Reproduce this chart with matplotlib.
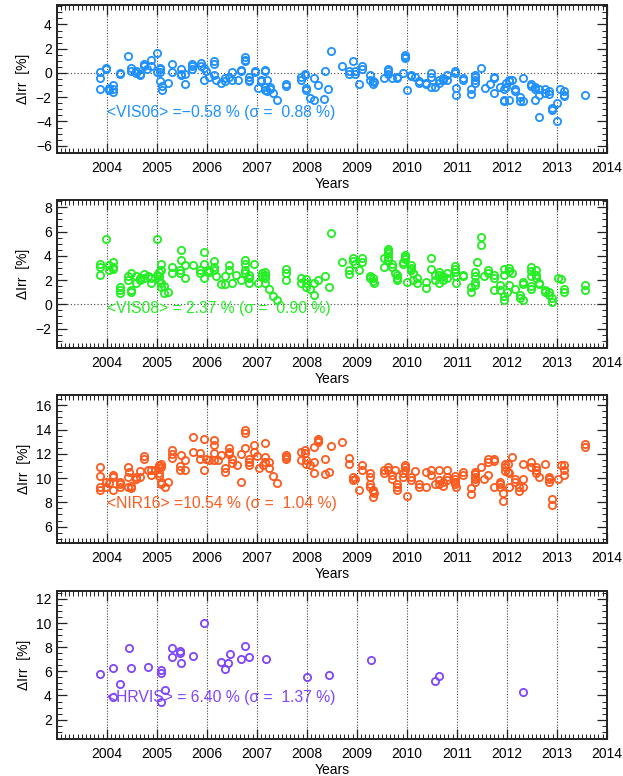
import matplotlib
matplotlib.use("Agg")
import matplotlib.pyplot as plt
import matplotlib.ticker as ticker
import numpy as np

plt.rcParams['font.family'] = ['Liberation Sans', 'DejaVu Sans']
plt.rcParams['font.size'] = 10

# ---- VIS06 ----
vis06_epochs = [2003.86, 2003.98, 2004.04, 2004.12, 2004.26, 2004.42, 2004.49, 2004.59, 2004.67, 2004.74,
                2004.81, 2004.89, 2005.01, 2005.07, 2005.10, 2005.23, 2005.31, 2005.48, 2005.57, 2005.70,
                2005.88, 2005.94, 2005.98, 2006.04, 2006.14, 2006.18, 2006.28, 2006.36, 2006.44, 2006.51,
                2006.63, 2006.69, 2006.77, 2006.85, 2006.97, 2007.02, 2007.09, 2007.17, 2007.20, 2007.27,
                2007.32, 2007.40, 2007.58, 2007.88, 2007.96, 2007.98, 2008.06, 2008.14, 2008.15, 2008.22,
                2008.35, 2008.37, 2008.43, 2008.49, 2008.71, 2008.84, 2008.93, 2008.97, 2009.05, 2009.10,
                2009.26, 2009.32, 2009.34, 2009.54, 2009.62, 2009.70, 2009.81, 2009.93, 2009.97, 2010.01,
                2010.09, 2010.17, 2010.25, 2010.39, 2010.49, 2010.57, 2010.65, 2010.72, 2010.80, 2010.96,
                2010.99, 2011.12, 2011.28, 2011.36, 2011.48, 2011.56, 2011.67, 2011.75, 2011.86, 2011.94,
                2011.99, 2012.05, 2012.11, 2012.17, 2012.27, 2012.33, 2012.49, 2012.57, 2012.65, 2012.76,
                2012.84, 2012.90, 2013.00, 2013.06, 2013.14, 2013.57]
vis06_values = [[0.05, -0.4, -1.3], [0.45, 0.3], [-1.2, -1.4], [-1.0, -1.3, -1.6], [0.0, -0.1], [1.4],
                [0.4, 0.2], [0.2, 0.0], [-0.1, -0.2], [0.7, 0.6], [0.3], [1.05, 0.6], [1.65, 0.1],
                [0.4, 0.3, 0.1, -0.7], [-1.05, -1.4], [-0.85], [0.75, 0.1], [0.3, -0.1, -0.2], [-0.05, -0.95],
                [0.75, 0.55, 0.35], [0.8, 0.6], [0.4, -0.55], [0.15], [-0.3], [0.95, 0.7, -0.2], [-0.55],
                [-0.8], [-0.4, -0.7], [-0.3], [0.05, -0.55], [-0.55], [0.25, 0.2], [1.3, 1.1, 0.95],
                [-0.35, -0.55, -0.7], [0.05, 0.15], [-1.25], [-0.6, -0.7], [0.25, 0.15, -1.15, -1.4],
                [-0.55, -1.5], [-1.15, -1.35], [-1.65], [-2.2], [-0.95, -1.1], [-0.3, -0.55], [-0.05, -0.2],
                [-1.25, -1.4], [-2.05], [-0.45], [-2.2], [-1.0], [-2.15], [0.15], [-1.3], [1.85], [0.6],
                [0.2, -0.05], [1.0], [0.15, -0.05], [-0.95], [0.55, 0.3], [-0.2, -0.55], [-0.7, -0.9],
                [-0.75], [-0.4], [0.35, 0.15, -0.05], [-0.4], [-0.35, -0.4], [0.0], [1.5, 1.35, 1.25],
                [-1.4], [-0.15, -0.25], [-0.3], [-0.7, -0.8], [-0.8, -0.95], [0.0, -0.35, -1.15], [-1.15],
                [-0.6, -0.8], [-0.4, -0.55], [-0.2, -0.6], [0.15, 0.0], [-1.25, -1.8], [-0.4, -0.55],
                [-1.35, -1.7], [-0.15, -0.35, -0.55, -0.8], [0.4], [-1.25], [-0.95], [-0.3, -0.4, -1.65],
                [-1.15], [-2.2, -2.35, -1.35], [-0.8, -1.15], [-0.55, -0.7, -2.2], [-0.6], [-1.3, -1.5],
                [-2.0, -2.35], [-0.4, -2.35], [-0.9, -1.05], [-1.15, -1.35, -2.2], [-1.35, -1.8, -3.6],
                [-1.35, -1.65], [-1.5, -1.7], [-2.9, -3.05], [-2.5, -3.95], [-1.3], [-1.45, -1.8, -1.9],
                [-1.8]]

# ---- VIS08 ----
vis08_epochs = [2003.86, 2003.98, 2004.04, 2004.12, 2004.26, 2004.42, 2004.49, 2004.59, 2004.67, 2004.74,
                2004.82, 2004.89, 2005.01, 2005.05, 2005.09, 2005.15, 2005.23, 2005.31, 2005.46, 2005.49,
                2005.57, 2005.72, 2005.86, 2005.95, 2006.04, 2006.14, 2006.18, 2006.28, 2006.36, 2006.45,
                2006.51, 2006.59, 2006.69, 2006.77, 2006.85, 2006.95, 2007.02, 2007.11, 2007.17, 2007.24,
                2007.32, 2007.40, 2007.58, 2007.88, 2007.98, 2008.07, 2008.14, 2008.15, 2008.22, 2008.37,
                2008.45, 2008.49, 2008.71, 2008.84, 2008.93, 2008.97, 2009.05, 2009.10, 2009.26, 2009.32,
                2009.34, 2009.54, 2009.62, 2009.70, 2009.76, 2009.81, 2009.93, 2009.97, 2010.01, 2010.08,
                2010.13, 2010.21, 2010.39, 2010.49, 2010.57, 2010.65, 2010.72, 2010.80, 2010.96, 2010.99,
                2011.12, 2011.28, 2011.36, 2011.40, 2011.48, 2011.54, 2011.62, 2011.75, 2011.86, 2011.94,
                2011.95, 2012.01, 2012.05, 2012.11, 2012.17, 2012.27, 2012.33, 2012.49, 2012.58, 2012.65,
                2012.76, 2012.84, 2012.90, 2013.02, 2013.08, 2013.14, 2013.57]
vis08_values = [[3.35, 3.1, 2.4], [5.35], [3.25, 2.8], [3.5, 3.1, 2.9], [1.45, 1.2, 0.9], [2.3, 2.0],
                [2.6, 1.2, 1.05], [2.3, 1.8], [2.2, 2.0], [2.5, 2.15], [2.3], [2.2, 1.8], [5.35, 2.4],
                [2.7, 2.3, 2.0], [3.3, 2.8, 1.8, 1.45], [1.55, 0.9], [1.05], [3.1, 2.6], [2.8, 2.55],
                [4.45, 3.65], [3.25, 2.2], [3.25], [2.8, 2.6], [4.3, 3.35, 2.15], [2.8, 2.7],
                [3.55, 3.1, 2.8], [2.3], [1.65], [2.35, 1.65], [3.25, 2.8], [1.8], [2.4], [2.0],
                [3.65, 3.35, 2.8, 2.6], [2.4, 2.15, 1.8], [3.3], [1.8], [2.55, 2.3], [2.7, 2.4, 2.15, 1.75],
                [1.3], [0.65], [0.35], [2.9, 2.55, 2.0], [2.2, 1.75], [2.1, 1.75, 1.45], [1.3], [1.8], [0.8],
                [2.0], [2.35], [1.4], [5.9], [3.5], [2.8, 2.5], [3.8, 3.55], [3.35], [2.8], [3.8, 3.5],
                [2.35, 2.15], [2.2, 1.9], [1.8], [3.8, 3.1], [4.6, 4.4, 4.2, 3.9, 3.65], [3.35, 3.1], [2.6],
                [2.4, 2.2, 2.0], [3.5, 3.3], [4.1, 3.9, 3.7], [1.85], [3.25, 3.0, 2.8], [2.55, 2.0],
                [2.15, 1.8], [1.85, 1.35], [3.8, 2.9], [2.4, 2.0], [2.7, 2.4, 1.8], [2.3, 2.0], [2.6, 2.2],
                [3.2, 2.95, 2.7], [2.3, 1.75], [2.4, 2.3], [1.45, 1.05], [2.7, 2.3, 1.85, 1.6], [3.5],
                [5.55, 4.9], [2.3], [2.8, 2.55], [2.4, 2.2, 1.2], [1.6, 1.2], [0.65, 0.35], [2.4, 2.9],
                [1.05], [3.0, 2.75, 1.6], [2.55], [1.25], [0.75, 0.55], [1.85, 1.65, 0.4],
                [3.1, 2.75, 2.3, 1.55, 1.3], [2.8, 2.4, 2.15], [1.8, 1.65], [1.2, 1.0], [1.05, 0.8],
                [0.5, 0.2], [2.2], [2.1], [1.3, 1.05], [1.6, 1.2]]

# ---- NIR16 ----
nir16_epochs = [2003.86, 2003.98, 2004.04, 2004.12, 2004.26, 2004.42, 2004.45, 2004.49, 2004.59, 2004.67,
                2004.75, 2004.82, 2004.89, 2004.97, 2005.05, 2005.09, 2005.17, 2005.23, 2005.31, 2005.46,
                2005.49, 2005.57, 2005.72, 2005.86, 2005.94, 2005.98, 2006.04, 2006.14, 2006.22, 2006.28,
                2006.36, 2006.45, 2006.51, 2006.61, 2006.69, 2006.77, 2006.85, 2006.95, 2007.00, 2007.05,
                2007.13, 2007.17, 2007.24, 2007.32, 2007.40, 2007.58, 2007.88, 2007.96, 2007.98, 2008.07,
                2008.15, 2008.22, 2008.37, 2008.45, 2008.49, 2008.71, 2008.84, 2008.93, 2008.97, 2009.05,
                2009.10, 2009.26, 2009.32, 2009.34, 2009.54, 2009.62, 2009.70, 2009.76, 2009.81, 2009.93,
                2009.97, 2010.01, 2010.09, 2010.17, 2010.25, 2010.39, 2010.49, 2010.57, 2010.65, 2010.72,
                2010.80, 2010.96, 2010.99, 2011.12, 2011.28, 2011.36, 2011.48, 2011.54, 2011.62, 2011.75,
                2011.86, 2011.92, 2011.97, 2012.03, 2012.05, 2012.11, 2012.17, 2012.25, 2012.33, 2012.49,
                2012.58, 2012.65, 2012.76, 2012.84, 2012.90, 2013.02, 2013.08, 2013.14, 2013.57]
nir16_values = [[10.9, 10.15, 9.3, 9.05], [9.7, 9.25], [9.6], [10.25, 10.05, 9.0], [9.7, 9.5, 9.25],
                [10.9, 10.05, 9.3], [10.5], [9.35, 9.15], [10.1, 9.95], [10.6, 10.05], [11.8, 11.55],
                [10.65], [10.65, 10.25], [10.65], [11.05, 10.8, 10.45, 10.15], [11.15, 10.9, 9.7, 9.55],
                [9.3], [9.7], [12.3, 12.0, 11.65], [11.0, 10.7], [11.9], [11.5, 10.7], [13.4, 12.15],
                [12.05, 11.6], [13.25, 10.7], [11.6], [11.5], [13.1, 12.7, 12.05, 11.5], [11.5], [11.9],
                [10.8, 10.5], [12.45, 12.15, 12.0], [11.55, 11.25], [11.05], [12.0, 9.7],
                [14.0, 13.7, 12.45], [11.6, 11.35, 11.05], [12.7, 12.15], [11.8], [10.8], [11.05],
                [12.9, 11.75, 11.35], [11.35, 10.8], [10.15], [9.6], [11.9, 11.75, 11.6], [12.15, 11.45],
                [12.3, 12.05], [11.5, 11.2], [11.05], [12.6, 11.35, 10.45], [13.25, 13.1, 12.95],
                [11.55, 10.35], [10.5], [12.65], [13.0], [11.65, 11.2], [10.05, 9.8], [9.9], [9.05],
                [11.05, 10.65], [10.45, 10.05, 9.5, 9.3], [9.05, 8.9, 8.4], [8.75], [10.65, 10.4],
                [10.9, 10.7], [10.25, 9.95], [10.65], [9.55, 9.3, 9.05], [10.45, 10.05], [11.05, 10.9, 10.7],
                [8.5], [10.05, 9.85], [10.6], [9.55, 9.3], [10.5, 9.3], [10.7, 10.25], [9.5],
                [10.65, 9.8, 9.55], [9.7, 9.35], [10.65, 10.05, 9.85], [10.15, 9.95, 9.7, 9.5], [9.25],
                [10.5, 10.25], [9.15, 8.7], [10.5, 10.3, 10.1, 9.9, 9.7], [10.9], [9.95], [11.55, 11.35, 10.25],
                [11.6, 11.4, 9.3], [9.7, 9.5, 9.3], [8.75, 8.15], [11.2, 10.9, 10.6], [11.15, 10.5],
                [10.4, 9.25], [11.75], [9.9, 9.7], [9.3, 8.95], [11.15, 9.95, 9.25], [11.35, 10.9],
                [10.95, 10.65, 10.45], [10.05], [11.15], [10.05, 9.9, 9.7], [8.25, 7.8], [9.9], [11.05],
                [11.05, 10.7, 10.25], [12.8, 12.6]]

# ---- HRVIS ----
hrvis_epochs = [2003.86, 2004.12, 2004.12, 2004.26, 2004.45, 2004.49, 2004.82, 2005.08, 2005.09, 2005.16,
                2005.31, 2005.46, 2005.49, 2005.72, 2005.94, 2006.28, 2006.36, 2006.43, 2006.47, 2006.69,
                2006.77, 2006.85, 2007.18, 2008.00, 2008.45, 2009.28, 2010.57, 2010.65, 2012.33]
hrvis_values = [[5.75], [6.3], [3.85], [4.95], [7.95], [6.25], [6.35], [6.1, 5.9], [3.5], [4.45],
                [7.95, 7.15], [7.65, 7.5], [6.65], [7.3], [10.0], [6.8], [6.2], [6.65], [7.4], [7.05],
                [8.1], [7.2], [7.0], [5.5], [5.7], [6.9], [5.2], [5.6], [4.25]]

labels = ["<VIS06> =\u22120.58 % (σ =  0.88 %)",
          "<VIS08> = 2.37 % (σ =  0.90 %)",
          "<NIR16> =10.54 % (σ =  1.04 %)",
          "<HRVIS> = 6.40 % (σ =  1.37 %)"]
colors = ["#1E90FF", "#22EE22", "#FF5A1E", "#7F44FF"]
ylims = [(-6.6, 5.6), (-3.6, 8.6), (4.65, 16.85), (0.4, 12.65)]
yticks = [np.arange(-6, 5, 2), np.arange(-2, 9, 2), np.arange(6, 17, 2), np.arange(2, 13, 2)]
label_y = [-3.25, -0.35, 7.9, 3.8]

series = [(vis06_epochs, vis06_values), (vis08_epochs, vis08_values),
          (nir16_epochs, nir16_values), (hrvis_epochs, hrvis_values)]

fig = plt.figure(figsize=(6.23, 7.76), dpi=100)
bottoms = [0.8028, 0.5515, 0.3003, 0.0477]

for k in range(4):
    ax = fig.add_axes([0.091, bottoms[k], 0.883, 0.1907])
    epochs, values = series[k]
    xs = []
    ys = []
    for t, vals in zip(epochs, values):
        for v in vals:
            xs.append(t)
            ys.append(v)

    for yr in range(2004, 2014):
        ax.axvline(yr, color="#444444", linestyle=(0, (1, 1.5)), linewidth=0.8, zorder=1)
    ax.axhline(0, color="#444444", linestyle=(0, (1, 2)), linewidth=0.8, zorder=1)

    ax.plot(xs, ys, linestyle="none", marker="o", markersize=5.2, markerfacecolor="none",
            markeredgecolor=colors[k], markeredgewidth=1.3, zorder=3)

    ax.text(2004, label_y[k], labels[k], color=colors[k], fontsize=11.3, va="center", ha="left", zorder=4)

    ax.set_xlim(2003, 2014)
    ax.set_ylim(*ylims[k])
    ax.set_xticks(np.arange(2004, 2015, 1))
    ax.xaxis.set_minor_locator(ticker.MultipleLocator(1 / 12))
    ax.set_yticks(yticks[k])
    ax.yaxis.set_minor_locator(ticker.MultipleLocator(0.5))
    ax.tick_params(which="both", direction="in", top=True, right=True, color="#222222")
    ax.tick_params(which="major", length=7, width=0.9, labelsize=10)
    ax.tick_params(which="minor", length=3.5, width=0.7)
    ax.tick_params(axis="x", which="major", pad=6)
    for sp in ax.spines.values():
        sp.set_linewidth(1.4)
        sp.set_color("#222222")
    ax.set_xlabel("Years", fontsize=10, labelpad=1)
    ax.set_ylabel("ΔIrr  [%]", fontsize=10, labelpad=4)

fig.savefig("out.png", dpi=100)
